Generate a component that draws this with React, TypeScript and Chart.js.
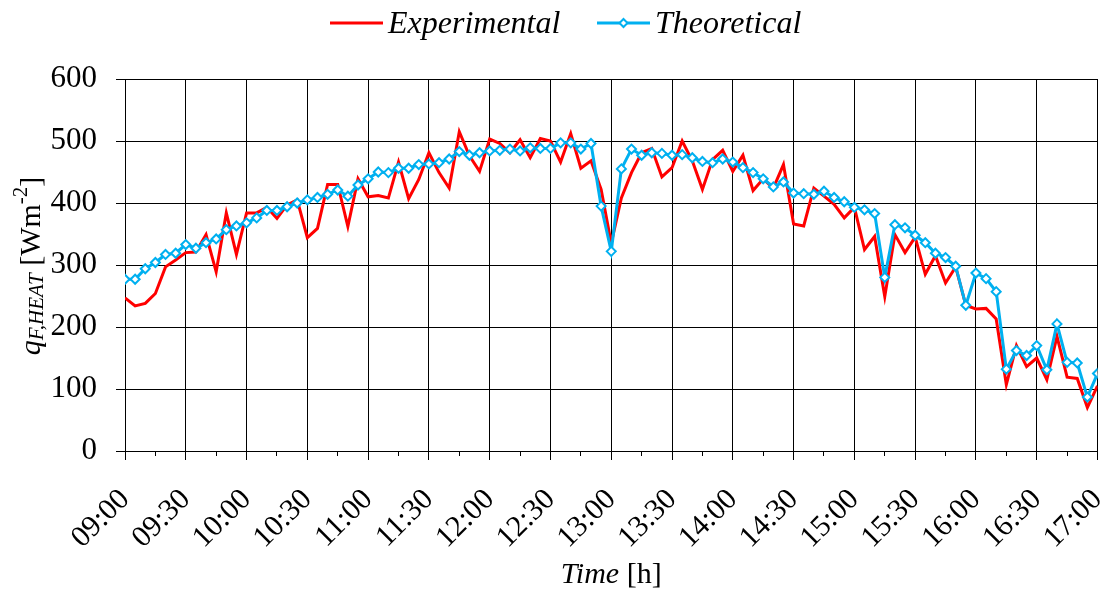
import React, { useEffect, useRef } from 'react';
import { Chart, registerables } from 'chart.js';

Chart.register(...registerables);

// Sampling interval of the series (minutes from 09:00)
const STEP_MIN = 5;

const xTickLabels = [
  '09:00', '09:30', '10:00', '10:30', '11:00', '11:30', '12:00', '12:30', '13:00',
  '13:30', '14:00', '14:30', '15:00', '15:30', '16:00', '16:30', '17:00',
];

const yTickValues = [0, 100, 200, 300, 400, 500, 600];

const experimental = [
  247, 234, 238, 254, 297, 308, 320, 321, 349, 289,
  384, 317, 384, 384, 393, 375, 397, 405, 344, 359,
  430, 430, 362, 439, 410, 412, 408, 466, 407, 438,
  481, 449, 424, 515, 476, 451, 503, 496, 481, 502,
  473, 504, 500, 466, 512, 456, 468, 422, 335, 408,
  449, 481, 488, 442, 457, 500, 468, 422, 470, 485,
  451, 477, 420, 439, 424, 462, 366, 363, 424, 411,
  398, 376, 393, 325, 346, 249, 349, 320, 345, 285,
  315, 271, 297, 235, 229, 230, 213, 107, 170, 136,
  150, 115, 185, 119, 117, 70, 105,
];

const theoretical = [
  277, 277, 294, 304, 317, 319, 333, 327, 336, 342,
  357, 363, 368, 376, 388, 388, 394, 400, 405, 409,
  414, 421, 411, 429, 439, 450, 449, 456, 456, 462,
  463, 465, 471, 483, 477, 481, 484, 485, 487, 484,
  489, 488, 488, 497, 497, 487, 496, 395, 322, 455,
  487, 477, 481, 480, 477, 478, 473, 467, 465, 471,
  466, 457, 449, 439, 426, 434, 416, 415, 414, 419,
  409, 402, 393, 389, 383, 280, 365, 360, 348, 336,
  319, 312, 298, 235, 287, 278, 257, 132, 162, 154,
  170, 131, 205, 143, 142, 87, 125,
];

const RED = '#FF0000';
const BLUE = '#00B0F0';
const SERIF = '"Liberation Serif", "Times New Roman", serif';

export default function App() {
  const canvasRef = useRef<HTMLCanvasElement | null>(null);

  useEffect(() => {
    document.body.style.margin = '0';
    const canvas = canvasRef.current;
    if (!canvas) return;

    const toPoints = (arr: number[]) => arr.map((v, i) => ({ x: i * STEP_MIN, y: v }));
    const totalMin = (xTickLabels.length - 1) * 30;

    const diamond = (ctx: CanvasRenderingContext2D, x: number, y: number, r: number) => {
      ctx.beginPath();
      ctx.moveTo(x, y - r);
      ctx.lineTo(x + r, y);
      ctx.lineTo(x, y + r);
      ctx.lineTo(x - r, y);
      ctx.closePath();
      ctx.fillStyle = '#fff';
      ctx.fill();
      ctx.lineWidth = 2;
      ctx.strokeStyle = BLUE;
      ctx.stroke();
    };

    const deco = {
      id: 'deco',
      afterDraw(chart: any) {
        const { ctx, chartArea, scales } = chart;
        const xs = scales.x;
        ctx.save();

        // minor ticks on the x axis
        ctx.strokeStyle = '#000';
        ctx.lineWidth = 1;
        for (let m = 15; m < totalMin; m += 30) {
          const px = Math.round(xs.getPixelForValue(m) - 0.5) + 0.5;
          ctx.beginPath();
          ctx.moveTo(px, chartArea.bottom);
          ctx.lineTo(px, chartArea.bottom + 5);
          ctx.stroke();
        }

        // legend
        ctx.textBaseline = 'alphabetic';
        ctx.textAlign = 'left';
        ctx.lineCap = 'butt';
        ctx.strokeStyle = RED;
        ctx.lineWidth = 3;
        ctx.beginPath();
        ctx.moveTo(330, 23);
        ctx.lineTo(383, 23);
        ctx.stroke();
        ctx.fillStyle = '#000';
        ctx.font = `italic 32px ${SERIF}`;
        ctx.fillText('Experimental', 388, 33);

        ctx.strokeStyle = BLUE;
        ctx.lineWidth = 3;
        ctx.beginPath();
        ctx.moveTo(597, 23);
        ctx.lineTo(650, 23);
        ctx.stroke();
        diamond(ctx, 623.5, 23, 4);
        ctx.fillStyle = '#000';
        ctx.font = `italic 32px ${SERIF}`;
        ctx.fillText('Theoretical', 655, 33);

        // x axis title
        ctx.font = `italic 30px ${SERIF}`;
        const w1 = ctx.measureText('Time').width;
        ctx.font = `30px ${SERIF}`;
        const w2 = ctx.measureText(' [h]').width;
        const cx = (chartArea.left + chartArea.right) / 2;
        const sx = cx - (w1 + w2) / 2;
        ctx.font = `italic 30px ${SERIF}`;
        ctx.fillText('Time', sx, 583);
        ctx.font = `30px ${SERIF}`;
        ctx.fillText(' [h]', sx + w1, 583);

        // y axis title with sub/superscript
        const segs = [
          { t: 'q', f: `italic 30px ${SERIF}`, dy: 0 },
          { t: 'F,HEAT', f: `italic 21px ${SERIF}`, dy: 3 },
          { t: ' [Wm', f: `30px ${SERIF}`, dy: 0 },
          { t: '-2', f: `21px ${SERIF}`, dy: -13 },
          { t: ']', f: `30px ${SERIF}`, dy: 0 },
        ];
        let total = 0;
        const widths = segs.map((s) => {
          ctx.font = s.f;
          const w = ctx.measureText(s.t).width;
          total += w;
          return w;
        });
        ctx.translate(40, (chartArea.top + chartArea.bottom) / 2 + 1);
        ctx.rotate(-Math.PI / 2);
        let lx = -total / 2;
        segs.forEach((s, i) => {
          ctx.font = s.f;
          ctx.fillText(s.t, lx, s.dy);
          lx += widths[i];
        });

        ctx.restore();
      },
    };

    const chart = new Chart(canvas, {
      type: 'line',
      data: {
        datasets: [
          {
            label: 'Experimental',
            data: toPoints(experimental),
            borderColor: RED,
            backgroundColor: RED,
            borderWidth: 3,
            pointRadius: 0,
            tension: 0,
            order: 1,
          },
          {
            label: 'Theoretical',
            data: toPoints(theoretical),
            borderColor: BLUE,
            backgroundColor: '#fff',
            borderWidth: 3,
            pointStyle: 'rectRot',
            pointRadius: 4.5,
            pointBorderWidth: 2,
            pointBorderColor: BLUE,
            pointBackgroundColor: '#fff',
            tension: 0,
            order: 0,
          },
        ],
      },
      options: {
        animation: false,
        responsive: false,
        maintainAspectRatio: false,
        layout: { padding: { left: 0, right: 6, top: 79, bottom: 0 } },
        plugins: {
          legend: { display: false },
          title: { display: false },
          tooltip: { enabled: false },
        },
        scales: {
          x: {
            type: 'linear',
            min: 0,
            max: totalMin,
            afterBuildTicks: (scale: any) => {
              scale.ticks = xTickLabels.map((_, i) => ({ value: i * 30 }));
            },
            afterFit: (scale: any) => {
              scale.height = 141;
              scale.paddingLeft = 0;
              scale.paddingRight = 0;
            },
            ticks: {
              autoSkip: false,
              maxRotation: 45,
              minRotation: 45,
              padding: 22,
              color: '#000',
              font: { family: SERIF, size: 30 },
              callback: (_v: any, i: number) => xTickLabels[i],
            },
            grid: {
              color: '#000',
              lineWidth: 1,
              tickLength: 9,
              drawTicks: true,
            },
            border: { display: true, color: '#000', width: 1 },
          },
          y: {
            type: 'linear',
            min: 0,
            max: 600,
            afterBuildTicks: (scale: any) => {
              scale.ticks = yTickValues.map((v) => ({ value: v }));
            },
            afterFit: (scale: any) => {
              scale.width = 125;
            },
            ticks: {
              padding: 19,
              color: '#000',
              font: { family: SERIF, size: 31 },
              callback: (v: any) => String(v),
            },
            grid: {
              color: '#000',
              lineWidth: 1,
              tickLength: 9,
            },
            border: { display: true, color: '#000', width: 1 },
          },
        },
      },
      plugins: [deco],
    });

    return () => chart.destroy();
  }, []);

  return (
    <div style={{ width: 1104, height: 592 }}>
      <canvas ref={canvasRef} width={1104} height={592} style={{ width: 1104, height: 592, display: 'block' }} />
    </div>
  );
}
